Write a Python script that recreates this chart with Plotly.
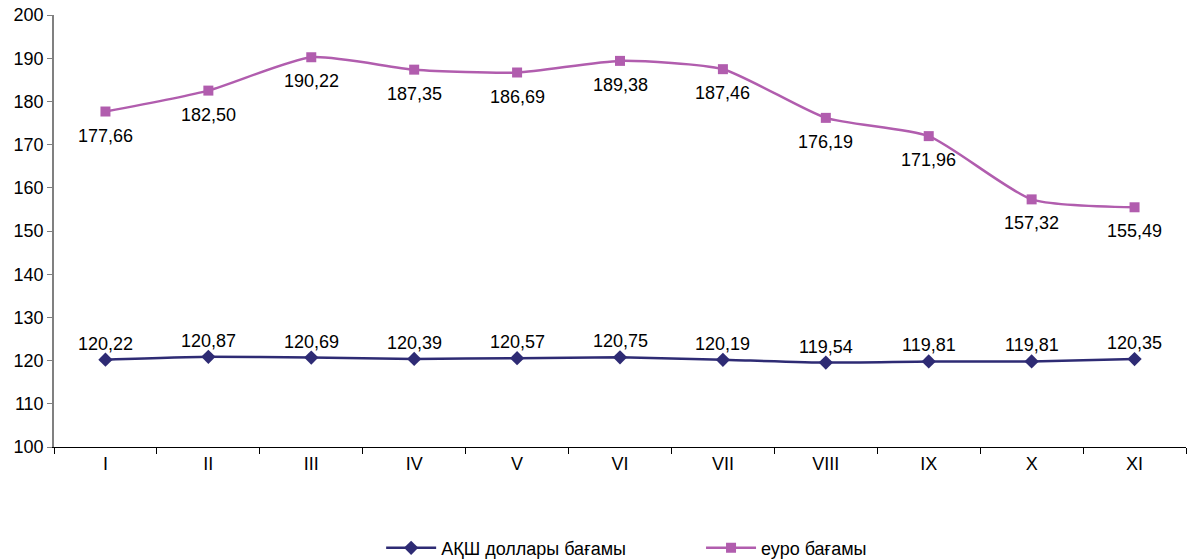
import plotly.graph_objects as go

months = ["I", "II", "III", "IV", "V", "VI", "VII", "VIII", "IX", "X", "XI"]
usd = [120.22, 120.87, 120.69, 120.39, 120.57, 120.75, 120.19, 119.54, 119.81, 119.81, 120.35]
eur = [177.66, 182.50, 190.22, 187.35, 186.69, 189.38, 187.46, 176.19, 171.96, 157.32, 155.49]
y_ticks = [100, 110, 120, 130, 140, 150, 160, 170, 180, 190, 200]

def fmt(v):
    return f"{v:.2f}".replace(".", ",")

FONT = "Liberation Sans, Arial, sans-serif"
USD_C = "#2E2B74"
EUR_C = "#B15DAE"
LBL = 18

fig = go.Figure()
fig.add_trace(go.Scatter(
    x=months, y=usd, name="АҚШ доллары бағамы" + "\u00a0" * 14,
    mode="lines+markers",
    line=dict(color=USD_C, width=2.5, shape="spline", smoothing=0.5),
    marker=dict(symbol="diamond", size=11, color=USD_C),
))
fig.add_trace(go.Scatter(
    x=months, y=eur, name="еуро бағамы",
    mode="lines+markers",
    line=dict(color=EUR_C, width=2.5, shape="spline", smoothing=0.6),
    marker=dict(symbol="square", size=10, color=EUR_C),
))

for m, v in zip(months, usd):
    fig.add_annotation(x=m, y=v, text=fmt(v), showarrow=False, yshift=16,
                       yanchor="middle", xanchor="center",
                       font=dict(size=LBL, family=FONT, color="#000000"))
for m, v in zip(months, eur):
    fig.add_annotation(x=m, y=v, text=fmt(v), showarrow=False, yshift=-24,
                       yanchor="middle", xanchor="center",
                       font=dict(size=LBL, family=FONT, color="#000000"))

fig.update_layout(
    width=1187, height=560,
    margin=dict(l=54, r=1, t=15, b=113, autoexpand=False),
    paper_bgcolor="white", plot_bgcolor="white",
    font=dict(family=FONT, size=18, color="#000000"),
    showlegend=True,
    legend=dict(orientation="h", x=0.289, xanchor="left", y=-0.234, yanchor="middle",
                font=dict(size=18, family=FONT), itemwidth=50),
    xaxis=dict(
        type="category", range=[-0.5, 10.5], automargin=False,
        showline=True, linecolor="#000000", linewidth=1,
        ticks="outside", tickson="boundaries", ticklen=6, tickcolor="#000000",
        showgrid=False, zeroline=False,
        tickfont=dict(size=18, family=FONT),
    ),
    yaxis=dict(
        range=[100, 200], tickvals=y_ticks, automargin=False,
        ticklabeloverflow="allow",
        showline=True, linecolor="#808080", linewidth=1.5,
        ticks="outside", ticklen=5, tickcolor="#808080",
        showgrid=False, zeroline=False,
        tickfont=dict(size=18, family=FONT),
    ),
)

fig.write_html("out.html",
               config={"displayModeBar": False},
               post_script="document.body.style.margin='0';document.body.style.overflow='hidden';")
